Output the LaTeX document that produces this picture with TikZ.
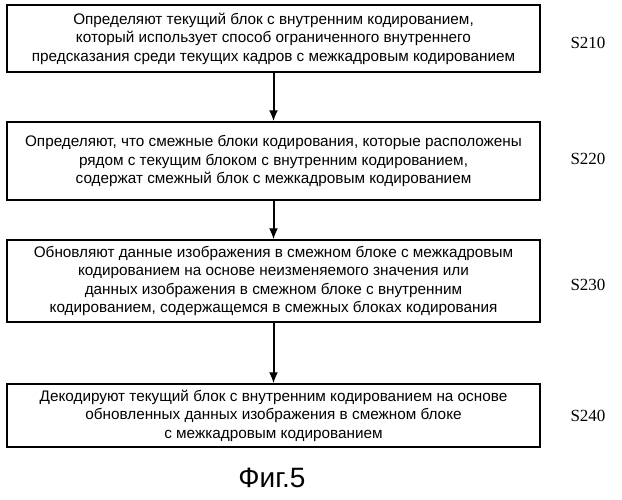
\documentclass[tikz,border=0pt]{standalone}
\usepackage{fontspec}
\setmainfont{Liberation Sans}
\newfontfamily\serifx{Liberation Serif}
\usetikzlibrary{arrows.meta}
\begin{document}
\begin{tikzpicture}[x=1pt,y=-1pt,
  stepbox/.style={draw,line width=1.3pt,minimum width=533pt,align=center,font=\fontsize{15.3}{18.5}\selectfont,inner sep=0pt},
  lbl/.style={font=\serifx\fontsize{17}{18}\selectfont},
  arr/.style={-{Latex[length=11pt,width=9pt]},line width=2pt}]
\useasboundingbox (0,0) rectangle (622,500);
\node[stepbox,minimum height=67pt] (b1) at (273.5,38.5) {Определяют текущий блок с внутренним кодированием,\\который использует способ ограниченного внутреннего\\предсказания среди текущих кадров с межкадровым кодированием};
\node[stepbox,minimum height=78pt] (b2) at (273.5,161) {Определяют, что смежные блоки кодирования, которые расположены\\рядом с текущим блоком с внутренним кодированием,\\содержат смежный блок с межкадровым кодированием};
\node[stepbox,minimum height=82pt] (b3) at (273.5,281) {Обновляют данные изображения в смежном блоке с межкадровым\\кодированием на основе неизменяемого значения или\\данных изображения в смежном блоке с внутренним\\кодированием, содержащемся в смежных блоках кодирования};
\node[stepbox,minimum height=63pt] (b4) at (273.5,415.5) {Декодируют текущий блок с внутренним кодированием на основе\\обновленных данных изображения в смежном блоке\\с межкадровым кодированием};
\draw[arr] (b1) -- (b2);
\draw[arr] (b2) -- (b3);
\draw[arr] (b3) -- (b4);
\node[lbl] (s1) at (588,43) {S210};
\node[lbl] (s2) at (588,159) {S220};
\node[lbl] (s3) at (588,285) {S230};
\node[lbl] (s4) at (588,416) {S240};
\node[font=\fontsize{28}{30}\selectfont] (cap) at (272,478) {Фиг.5};
\end{tikzpicture}
\end{document}
